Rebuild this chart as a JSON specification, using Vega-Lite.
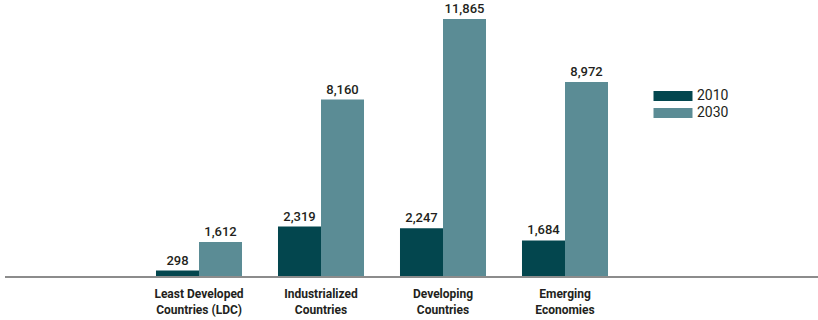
{
  "$schema": "https://vega.github.io/schema/vega-lite/v6.json",
  "autosize": "none",
  "width": 813,
  "height": 267,
  "padding": {"left": 5, "top": 10, "right": 0, "bottom": 43},
  "background": "white",
  "config": {"view": {"stroke": null}, "font": "Roboto"},
  "data": {"values": [
    {"region": "Least Developed Countries (LDC)", "year": "2010", "value": 298},
    {"region": "Least Developed Countries (LDC)", "year": "2030", "value": 1612},
    {"region": "Industrialized Countries", "year": "2010", "value": 2319},
    {"region": "Industrialized Countries", "year": "2030", "value": 8160},
    {"region": "Developing Countries", "year": "2010", "value": 2247},
    {"region": "Developing Countries", "year": "2030", "value": 11865},
    {"region": "Emerging Economies", "year": "2010", "value": 1684},
    {"region": "Emerging Economies", "year": "2030", "value": 8972}
  ]},
  "encoding": {
    "x": {"field": "region", "type": "nominal", "sort": null,
      "scale": {"range": [133, 621], "paddingInner": 0.295, "paddingOuter": 0.1475},
      "axis": {"title": null, "domain": false, "ticks": false, "labelAngle": 0, "labelPadding": 11,
        "labelFontSize": 12, "labelFontWeight": "bold", "labelColor": "#231f20", "labelLineHeight": 16,
        "labelExpr": "datum.label == 'Least Developed Countries (LDC)' ? ['Least Developed', 'Countries (LDC)'] : split(datum.label, ' ')"}},
    "xOffset": {"field": "year", "type": "nominal", "scale": {"paddingInner": 0, "paddingOuter": 0}},
    "y": {"field": "value", "type": "quantitative", "scale": {"domain": [0, 12280], "nice": false}, "axis": null}
  },
  "layer": [
    {"mark": {"type": "bar"},
     "encoding": {"color": {"field": "year", "type": "nominal",
        "scale": {"domain": ["2010", "2030"], "range": ["#03464e", "#5b8c95"]},
        "legend": {"title": null, "orient": "none", "legendX": 658, "legendY": 76, "padding": 0,
          "symbolType": "M-2,-0.512H2V0.512H-2Z", "symbolSize": 380, "symbolStrokeWidth": 0,
          "labelFontSize": 14, "labelColor": "#231f20", "labelOffset": 14, "rowPadding": 0}}}},
    {"mark": {"type": "text", "baseline": "bottom", "dy": -3, "fontSize": 13, "fontWeight": 500, "color": "#231f20"},
     "encoding": {"text": {"field": "value", "type": "quantitative", "format": ",d"}}},
    {"mark": {"type": "rule", "color": "#8c8c8c", "strokeWidth": 2},
     "encoding": {"x": null, "xOffset": null, "y": {"datum": 0}}}
  ]
}
